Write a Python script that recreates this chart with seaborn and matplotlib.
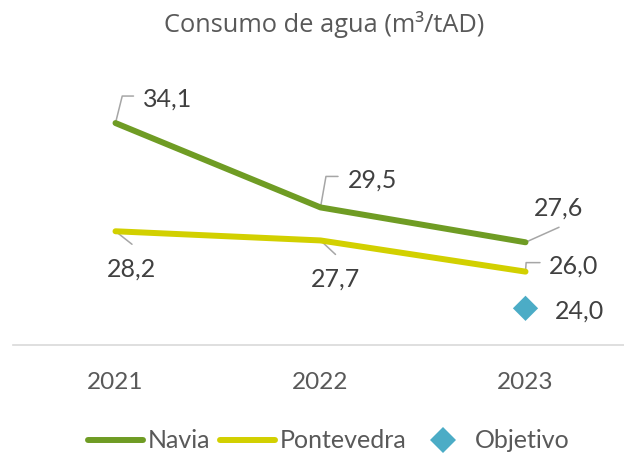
import matplotlib
matplotlib.use("Agg")
import matplotlib.pyplot as plt
from matplotlib.lines import Line2D
import seaborn as sns
import pandas as pd

# Data
years = ["2021", "2022", "2023"]
navia = [34.1, 29.5, 27.6]
pontevedra = [28.2, 27.7, 26.0]
objetivo_year = "2023"
objetivo = 24.0

NAVIA_C = "#6f9c24"
PONTE_C = "#d2d000"
OBJ_C = "#4bacc6"
LABEL_C = "#404040"
TICK_C = "#595959"
AXIS_C = "#d9d9d9"
LEADER_C = "#a6a6a6"

sns.set_style("white")
plt.rcParams["font.family"] = ["Lato", "DejaVu Sans"]

df = pd.DataFrame({
    "year": years * 2,
    "value": navia + pontevedra,
    "site": ["Navia"] * 3 + ["Pontevedra"] * 3,
})
obj_df = pd.DataFrame({"year": [objetivo_year], "value": [objetivo]})

fig = plt.figure(figsize=(6.24, 4.59), dpi=100)
ax = fig.add_axes([13 / 624, 114 / 459, 615 / 624, 256.8 / 459])

sns.lineplot(data=df, x="year", y="value", hue="site",
             palette={"Navia": NAVIA_C, "Pontevedra": PONTE_C},
             linewidth=4.3, solid_capstyle="round", legend=False,
             sort=False, ax=ax, zorder=3)
sns.scatterplot(data=obj_df, x="year", y="value", marker="D", s=165,
                color=OBJ_C, edgecolor="none", legend=False, ax=ax, zorder=4)

ax.set_xlim(-0.5, 2.5)
ax.set_ylim(22, 36)
ax.set_xlabel("")
ax.set_ylabel("")
ax.set_yticks([])

for s in ["top", "left", "right"]:
    ax.spines[s].set_visible(False)
ax.spines["bottom"].set_color(AXIS_C)
ax.spines["bottom"].set_linewidth(1.2)

ax.set_xticks(range(len(years)))
ax.set_xticklabels(years)
ax.set_xticks([-0.5, 0.5, 1.5, 2.5], minor=True)
ax.tick_params(axis="x", which="major", length=0, pad=19.5,
               labelsize=17.5, labelcolor=TICK_C)
ax.tick_params(axis="x", which="minor", length=5.8, width=1.2,
               color=AXIS_C, direction="out")


def leader(i, v, end, angle_b=None):
    style = "arc3,rad=0" if angle_b is None else f"angle,angleA=0,angleB={angle_b},rad=0"
    ax.annotate("", xy=(i, v), xytext=end, textcoords="offset pixels",
                arrowprops=dict(arrowstyle="-", color=LEADER_C, lw=1.1,
                                shrinkA=0, shrinkB=0, connectionstyle=style),
                zorder=2)


def label(i, v, off):
    ax.annotate(f"{v:.1f}".replace(".", ","), xy=(i, v), xytext=off,
                textcoords="offset pixels", ha="center", va="baseline",
                fontsize=18, color=LABEL_C, zorder=5)


# Navia labels
leader(0, navia[0], (18, 27), 76)
label(0, navia[0], (52.5, 16))
leader(1, navia[1], (17.5, 31), 80)
label(1, navia[1], (52, 20))
leader(2, navia[2], (33.5, 15))
label(2, navia[2], (33.5, 27))

# Pontevedra labels
leader(0, pontevedra[0], (16.5, -13))
label(0, pontevedra[0], (16.5, -45))
leader(1, pontevedra[1], (15, -14))
label(1, pontevedra[1], (14.5, -46))
leader(2, pontevedra[2], (14.5, 9), 86)
label(2, pontevedra[2], (48, -2))

# Target label
label(years.index(objetivo_year), objetivo, (54.5, -10))

fig.text(324 / 624, 1 - 32 / 459, "Consumo de agua (m³/tAD)",
         ha="center", va="baseline", fontsize=18.3, color=TICK_C,
         family=["Open Sans", "DejaVu Sans"])

handles = [
    Line2D([], [], color=NAVIA_C, lw=4.3, solid_capstyle="round"),
    Line2D([], [], color=PONTE_C, lw=4.3, solid_capstyle="round"),
    Line2D([], [], color=OBJ_C, lw=0, marker="D", markersize=12.8,
           markeredgewidth=0),
]
fig.legend(handles, ["Navia", "Pontevedra", "Objetivo"], loc="center",
           bbox_to_anchor=(329 / 624, 1 - 441 / 459), ncol=3, frameon=False,
           fontsize=18, labelcolor=TICK_C, handlelength=2.2,
           handletextpad=0.2, columnspacing=0.35, borderpad=0)

fig.savefig("out.png", dpi=100)
